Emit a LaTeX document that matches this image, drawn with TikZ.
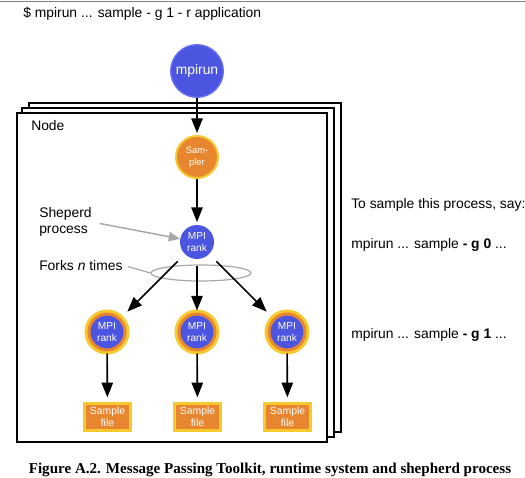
\documentclass[tikz,border=0pt]{standalone}
\usepackage{fontspec}
\setmainfont{Liberation Sans}
\newfontfamily\capfont{Liberation Serif}
\usetikzlibrary{arrows.meta,shapes.geometric}
\definecolor{mblue}{HTML}{4B55E0}
\definecolor{mbluel}{HTML}{6A72F2}
\definecolor{morange}{HTML}{E8862F}
\definecolor{myellow}{HTML}{F6C92E}
\definecolor{mgray}{HTML}{A8A8A8}
\tikzset{
  frame/.style={draw=black, fill=white, line width=1.4pt},
  arr/.style={-{Triangle[length=11pt,width=8.5pt]}, line width=1.2pt},
  grayarr/.style={-{Triangle[length=8.5pt,width=7pt]}, draw=mgray, line width=1.1pt},
  lbl/.style={inner sep=0pt, font=\fontsize{10.4pt}{11.5pt}\selectfont},
  intext/.style={text=white, align=center, inner sep=0pt},
  rankc/.style={circle, fill=mblue, draw=morange, line width=2.25pt, minimum size=27pt,
    preaction={draw=myellow, line width=6.75pt}, intext, font=\fontsize{7.6pt}{9.6pt}\selectfont},
  filebox/.style={rectangle, fill=morange, draw=myellow, line width=2.25pt,
    minimum width=34.5pt, minimum height=20.25pt, intext, font=\fontsize{7.8pt}{9.2pt}\selectfont},
}
\begin{document}
\begin{tikzpicture}[x=0.75pt,y=-0.75pt]
\useasboundingbox (0,0) rectangle (525,478);
\draw[gray, line width=0.75pt] (0,2) -- (525,2);
\node[lbl, anchor=base west] (cmd) at (23,18) {\$ mpirun ... sample - g 1 - r application};

% stacked frames
\draw[frame] (29,103) rectangle (341,432);
\draw[frame] (22,108) rectangle (334,437);
\draw[frame] (17,113) rectangle (327,442);
\node[lbl, anchor=base west] (nodelbl) at (31,130) {Node};

% nodes
\node[circle, fill=mblue, draw=mbluel, line width=1pt, minimum size=39.5pt, intext,
  font=\fontsize{10.4pt}{12pt}\selectfont] (mpirun) at (197,71) {mpirun};
\node[circle, fill=morange, draw=myellow, line width=1.5pt, minimum size=31.5pt, intext,
  font=\fontsize{7pt}{9pt}\selectfont] (sampler) at (197,157) {Sam-\\pler};
\node[circle, fill=mblue, minimum size=25.5pt, intext,
  font=\fontsize{7.6pt}{9.6pt}\selectfont] (shep) at (197,242) {MPI\\rank};

\node[ellipse, draw=mgray, line width=0.9pt, minimum width=75pt, minimum height=12pt, inner sep=0pt] (fork) at (201,273) {};

\node[rankc] (c1) at (107,332) {MPI\\rank};
\node[rankc] (c2) at (197,332) {MPI\\rank};
\node[rankc] (c3) at (287,332) {MPI\\rank};

\node[filebox] (f1) at (107.5,417) {Sample\\file};
\node[filebox] (f2) at (197.5,417) {Sample\\file};
\node[filebox] (f3) at (287.5,417) {Sample\\file};

% labels
\node[lbl, align=left, anchor=west] (shlab) at (39,222) {Sheperd\\process};
\node[lbl, anchor=base west] (forklab) at (39,270) {Forks \textit{n} times};

\node[lbl, anchor=base west] (say) at (351,208) {To sample this process, say:};
\node[lbl, anchor=base west] (g0) at (351,248) {mpirun ... sample \textbf{- g 0} ...};
\node[lbl, anchor=base west] (g1) at (351,338) {mpirun ... sample \textbf{- g 1} ...};

\node[anchor=base, inner sep=0pt, font=\capfont\bfseries\fontsize{11.3pt}{13pt}\selectfont] (cap) at (270,473)
  {Figure A.2. Message Passing Toolkit, runtime system and shepherd process};

% connectors
\draw[arr, shorten >=1.5pt] (mpirun) -- (sampler);
\draw[arr, shorten >=2pt] (sampler) -- (shep);
\draw[grayarr, shorten <=6pt] (shlab.east) -- (shep);
\draw[mgray, line width=0.9pt, shorten <=4pt] (forklab.east) -- (fork.west);
\draw[arr, shorten <=7.5pt, shorten >=7pt] (shep) -- (c1);
\draw[arr, shorten <=5pt, shorten >=1.5pt] (shep) -- (c2);
\draw[arr, shorten <=7.5pt, shorten >=7pt] (shep) -- (c3);
\draw[arr, shorten <=1.5pt, shorten >=3.5pt] (c1) -- (f1);
\draw[arr, shorten <=1.5pt, shorten >=3.5pt] (c2) -- (f2);
\draw[arr, shorten <=1.5pt, shorten >=3.5pt] (c3) -- (f3);
\end{tikzpicture}
\end{document}
